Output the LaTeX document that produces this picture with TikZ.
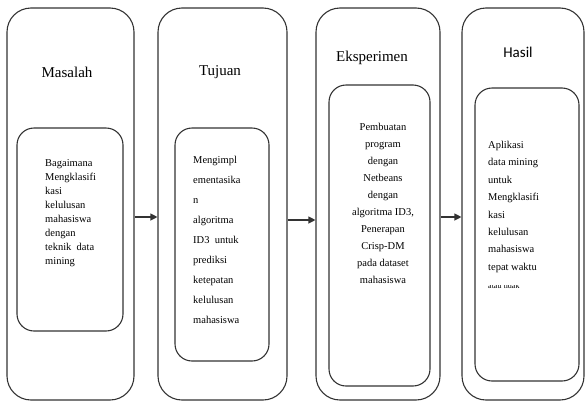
\documentclass[tikz,border=0pt]{standalone}
\usepackage{fontspec}
\setmainfont{Liberation Serif}
\newfontfamily\hasilfont{Carlito}
\usetikzlibrary{arrows.meta}
\tikzset{
  outerbox/.style={draw=black!80, line width=1.1pt, rounded corners=24pt, inner sep=0pt},
  innerbox/.style={draw=black!80, line width=1.1pt, rounded corners=17pt, inner sep=0pt},
  title/.style={font=\fontsize{15}{18}\selectfont, inner sep=0pt},
  body/.style={font=\fontsize{10.5}{#1}\selectfont, inner sep=0pt, anchor=north west, align=left},
  cbody/.style={font=\fontsize{10.5}{#1}\selectfont, inner sep=0pt, anchor=north, align=center},
  arr/.style={draw=black!80, line width=1.1pt, -{Triangle[length=7pt,width=7pt]}}
}
\begin{document}
\begin{tikzpicture}[x=1pt,y=-1pt]
\useasboundingbox (0,0) rectangle (585,407);
% outer boxes
\node[outerbox, minimum width=127pt, minimum height=392pt] (o1) at (70.5,204) {};
\node[outerbox, minimum width=129pt, minimum height=392pt] (o2) at (222.5,204) {};
\node[outerbox, minimum width=124pt, minimum height=392pt] (o3) at (378,204) {};
\node[outerbox, minimum width=122pt, minimum height=392pt] (o4) at (523,204) {};
% inner boxes
\node[innerbox, minimum width=106pt, minimum height=203pt] (i1) at (70,229.5) {};
\node[innerbox, minimum width=94pt, minimum height=233pt] (i2) at (222,244.5) {};
\node[innerbox, minimum width=101pt, minimum height=301pt] (i3) at (379.5,235.5) {};
\node[innerbox, minimum width=104pt, minimum height=293pt] (i4) at (527,234.5) {};
% titles
\node[title] (h1) at (67,72) {Masalah};
\node[title] (h2) at (220,72) {Tujuan};
\node[title] (h3) at (372,58) {Eksperimen};
\node[title, font=\hasilfont\fontsize{15}{18}\selectfont] (h4) at (518,52) {Hasil};
% body texts
\node[body=14] (t1) at (45,159) {Bagaimana\\Mengklasifi\\kasi\\kelulusan\\mahasiswa\\dengan\\teknik\ \ data\\mining};
\node[body=20] (t2) at (193,156) {Mengimpl\\ementasika\\n\\algoritma\\ID3\ \ untuk\\prediksi\\ketepatan\\kelulusan\\mahasiswa};
\node[cbody=17] (t3) at (383,123) {Pembuatan\\program\\dengan\\Netbeans\\dengan\\algoritma ID3,\\Penerapan\\Crisp-DM\\pada dataset\\mahasiswa};
\node[body=17.4] (t4) at (488,141) {Aplikasi\\data mining\\untuk\\Mengklasifi\\kasi\\kelulusan\\mahasiswa\\tepat waktu};
\begin{scope}
\clip (480,285) rectangle (575,300);
\node[body=17.4, font=\fontsize{8}{10}\selectfont] (t4b) at (488,283) {atau tidak};
\end{scope}
% connectors
\draw[arr] ([yshift=-13pt]o1.east) -- ([yshift=-13pt]o2.west);
\draw[arr] ([yshift=-16pt]o2.east) -- ([yshift=-16pt]o3.west);
\draw[arr] ([yshift=-13pt]o3.east) -- ([yshift=-13pt]o4.west);
\end{tikzpicture}
\end{document}
